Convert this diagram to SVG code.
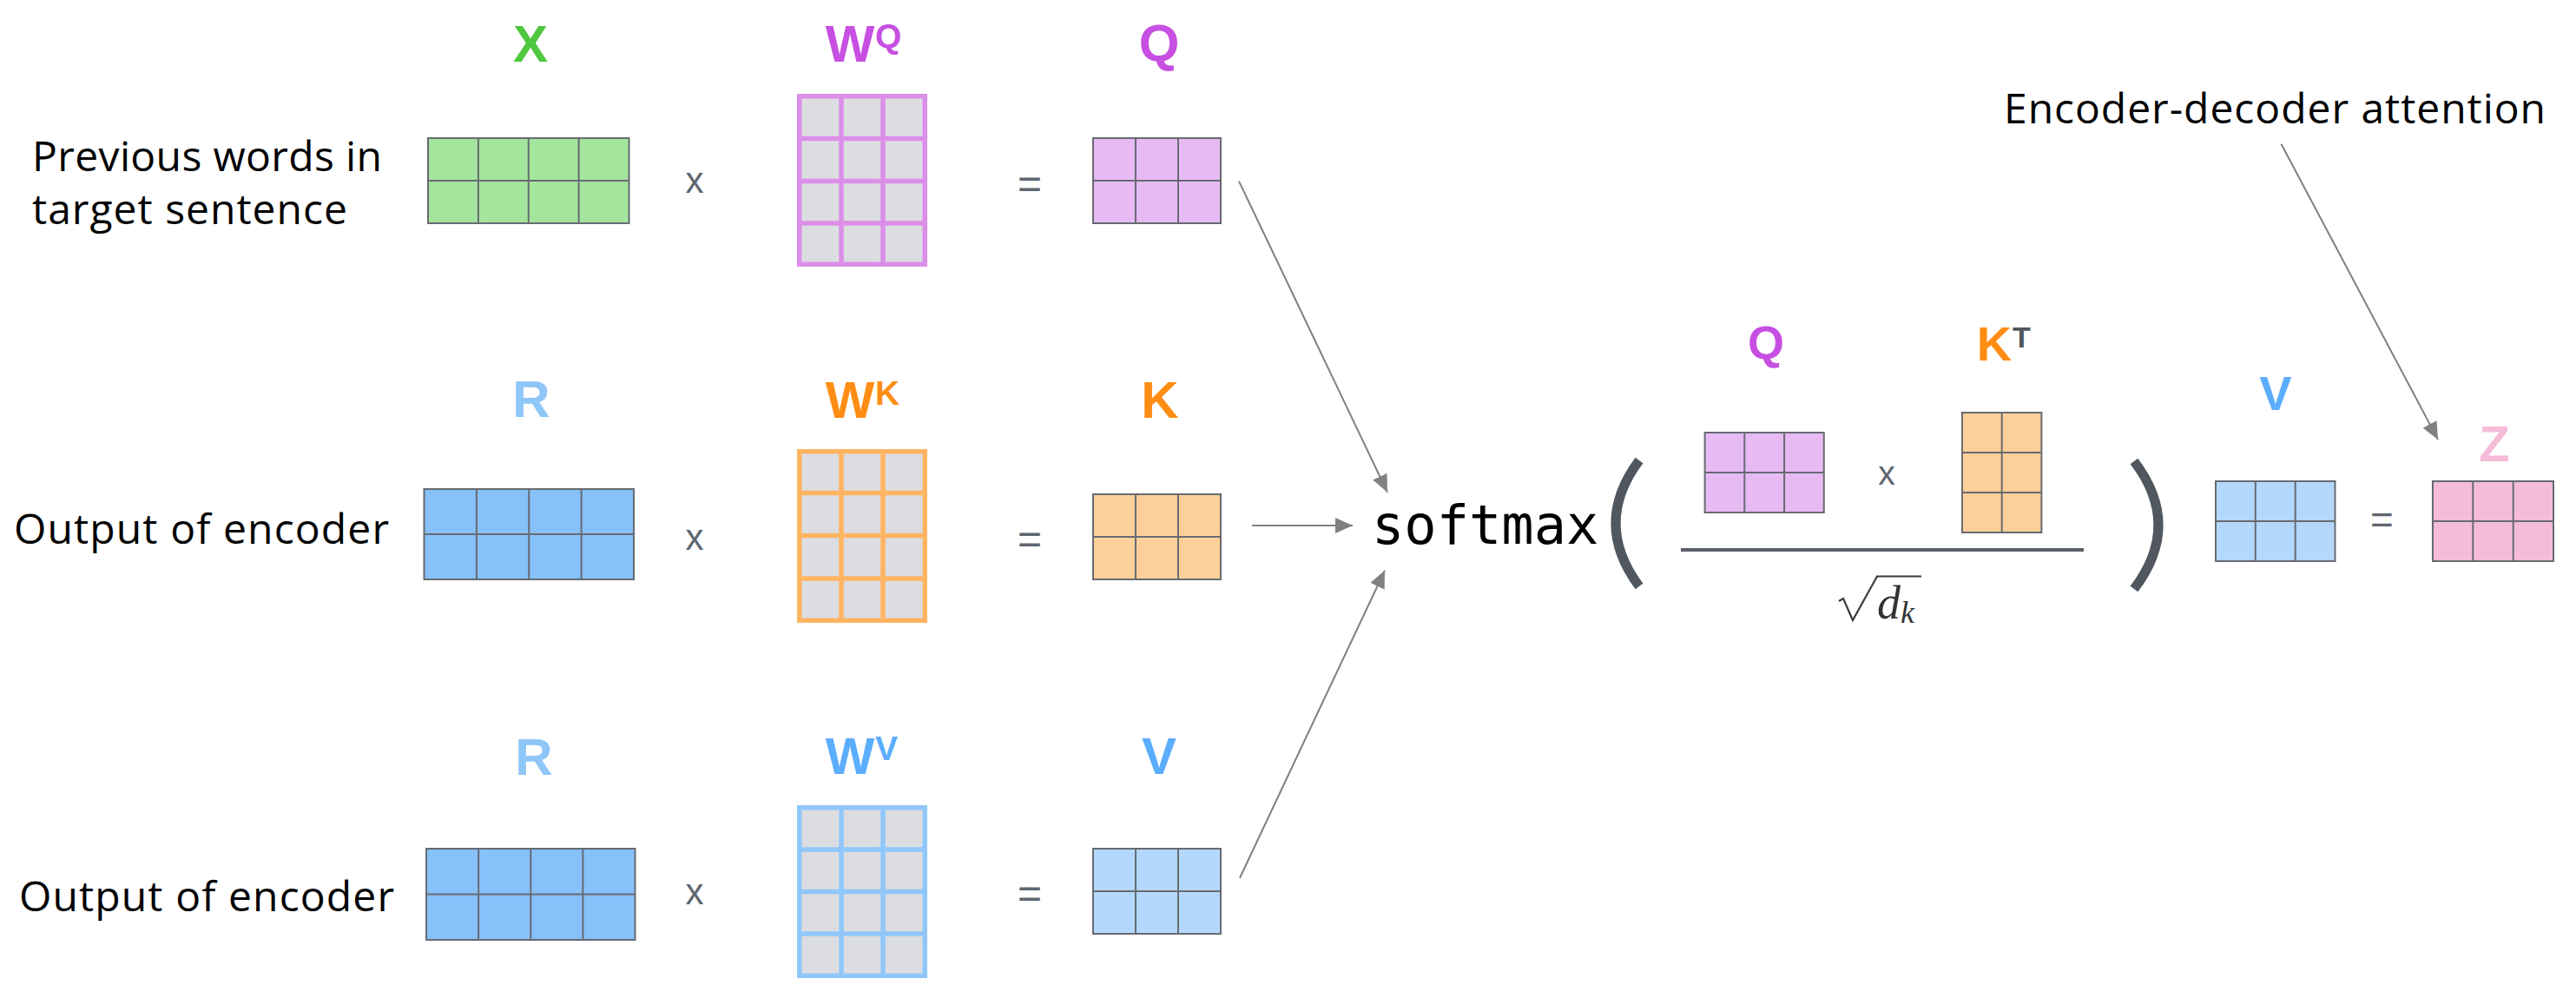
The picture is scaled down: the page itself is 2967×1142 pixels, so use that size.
<svg xmlns="http://www.w3.org/2000/svg" width="2967" height="1142" viewBox="0 0 2967 1142">
<style>
.lbl{font-family:"Liberation Sans",Arial,sans-serif;font-weight:bold;text-anchor:middle}
.sup{font-family:"Liberation Sans",Arial,sans-serif;font-weight:bold}
.txt{font-family:"Open Sans","Noto Sans",sans-serif;font-size:48px;fill:#000}
.op{font-family:"Liberation Sans",Arial,sans-serif;fill:#5f6670;text-anchor:middle}
.mat{stroke:#676b71;stroke-width:2}
.grid{fill:#dcdde0;stroke-width:5.5}
.gl{stroke-width:5.5}
.conn{stroke:#808080;stroke-width:2;fill:none;marker-end:url(#ah)}
.paren{fill:none;stroke:#50575f;stroke-width:11}
</style>
<defs>
<marker id="ah" markerUnits="userSpaceOnUse" markerWidth="22" markerHeight="20" refX="20" refY="9" orient="auto">
<path d="M0,0 L20,9 L0,18 z" fill="#808080"/>
</marker>
</defs>
<rect width="2967" height="1142" fill="#fff"/>

<g id="label-prev-words">
<text class="txt" x="37" y="197" textLength="403">Previous words in</text>
<text class="txt" x="37" y="258" textLength="363">target sentence</text>
</g>
<g id="label-output-encoder-1"><text class="txt" x="16" y="626" textLength="432">Output of encoder</text></g>
<g id="label-output-encoder-2"><text class="txt" x="22" y="1049" textLength="432">Output of encoder</text></g>
<g id="label-enc-dec-attn"><text class="txt" x="2308" y="142" textLength="624">Encoder-decoder attention</text></g>

<!-- Row 1 -->
<g id="X">
<text class="lbl" x="611" y="71" font-size="60" fill="#4fc73f">X</text>
<rect class="mat" x="493" y="159" width="231.5" height="98" fill="#a4e59d"/>
<path class="mat" d="M550.9,159V257M608.75,159V257M666.6,159V257M493,208H724.5"/>
</g>
<g id="op-mul-1"><text class="op" x="800" y="222" font-size="42">x</text></g>
<g id="WQ" stroke="#dc8ee9">
<text class="lbl" x="979" y="71" font-size="60" fill="#c74fe2" stroke="none">W</text>
<text class="sup" x="1008" y="55" font-size="39" fill="#c74fe2" stroke="none">Q</text>
<rect class="grid" x="920.75" y="110.75" width="144.5" height="193.5"/>
<path class="gl" d="M969,110.75V304.25M1017,110.75V304.25M920.75,159.5H1065.25M920.75,208.5H1065.25M920.75,257H1065.25"/>
</g>
<g id="op-eq-1"><text class="op" x="1186" y="228" font-size="48">=</text></g>
<g id="Q">
<text class="lbl" x="1335" y="70" font-size="60" fill="#c74fe2">Q</text>
<rect class="mat" x="1259" y="159" width="147" height="98" fill="#e8baf4"/>
<path class="mat" d="M1308,159V257M1357,159V257M1259,208H1406"/>
</g>

<!-- Row 2 -->
<g id="R1">
<text class="lbl" x="612" y="480" font-size="60" fill="#8fc6f8">R</text>
<rect class="mat" x="488.5" y="563" width="241.5" height="104" fill="#86c1f9" stroke="#5f6875"/>
<path class="mat" stroke="#5f6875" d="M548.9,563V667M609.25,563V667M669.6,563V667M488.5,615H730"/>
</g>
<g id="op-mul-2"><text class="op" x="800" y="633" font-size="42">x</text></g>
<g id="WK" stroke="#ffb462">
<text class="lbl" x="979" y="481" font-size="60" fill="#fe8d14" stroke="none">W</text>
<text class="sup" x="1008" y="466" font-size="39" fill="#fe8d14" stroke="none">K</text>
<rect class="grid" x="920.75" y="519.75" width="144.5" height="194.5"/>
<path class="gl" d="M969,519.75V714.25M1017,519.75V714.25M920.75,567.5H1065.25M920.75,616.5H1065.25M920.75,666H1065.25"/>
</g>
<g id="op-eq-2"><text class="op" x="1186" y="637" font-size="48">=</text></g>
<g id="K">
<text class="lbl" x="1336" y="481" font-size="60" fill="#fe8d14">K</text>
<rect class="mat" x="1259" y="569" width="147" height="98" fill="#fdd099"/>
<path class="mat" d="M1308,569V667M1357,569V667M1259,618H1406"/>
</g>

<!-- Row 3 -->
<g id="R2">
<text class="lbl" x="615" y="892" font-size="60" fill="#8fc6f8">R</text>
<rect class="mat" x="491" y="977" width="240.5" height="105" fill="#86c1f9" stroke="#5f6875"/>
<path class="mat" stroke="#5f6875" d="M551.1,977V1082M611.25,977V1082M671.4,977V1082M491,1029.5H731.5"/>
</g>
<g id="op-mul-3"><text class="op" x="800" y="1041" font-size="42">x</text></g>
<g id="WV" stroke="#90c7fb">
<text class="lbl" x="979" y="891" font-size="60" fill="#5badfd" stroke="none">W</text>
<text class="sup" x="1008" y="875" font-size="39" fill="#5badfd" stroke="none">V</text>
<rect class="grid" x="920.75" y="929.75" width="144.5" height="193.5"/>
<path class="gl" d="M969,929.75V1123.25M1017,929.75V1123.25M920.75,978H1065.25M920.75,1026.5H1065.25M920.75,1075H1065.25"/>
</g>
<g id="op-eq-3"><text class="op" x="1186" y="1045" font-size="48">=</text></g>
<g id="V">
<text class="lbl" x="1335" y="891" font-size="60" fill="#5badfd">V</text>
<rect class="mat" x="1259" y="977" width="147" height="98" fill="#b3d8fc"/>
<path class="mat" d="M1308,977V1075M1357,977V1075M1259,1026H1406"/>
</g>

<!-- Formula -->
<g id="softmax">
<text x="1580" y="626" font-family="DejaVu Sans Mono,monospace" font-size="62" fill="#000">softmax</text>
<path class="paren" d="M1888,530 Q1834,602.5 1888,675"/>
<path class="paren" d="M2458,531 Q2514,604.5 2458,678"/>
</g>
<g id="Q-formula">
<text class="lbl" x="2034" y="413" font-size="54" fill="#c74fe2">Q</text>
<rect class="mat" x="1963.6" y="498" width="137.2" height="92" fill="#e8baf4"/>
<path class="mat" d="M2009.3,498V590M2055.1,498V590M1963.6,544H2100.8"/>
</g>
<g id="op-mul-f"><text class="op" x="2173" y="558" font-size="39">x</text></g>
<g id="KT">
<text class="lbl" x="2297" y="415" font-size="56" fill="#fe8d14">K</text>
<text class="sup" x="2318" y="400" font-size="34" fill="#50575f">T</text>
<rect class="mat" x="2260" y="475" width="91.4" height="138" fill="#fdd099"/>
<path class="mat" d="M2305.7,475V613M2260,521H2351.4M2260,567H2351.4"/>
</g>
<g id="fraction">
<line x1="1936" y1="633" x2="2400" y2="633" stroke="#5b6067" stroke-width="4"/>
<path d="M2118,692 L2123,689 L2134,714 L2162,663.5 L2213,663.5" fill="none" stroke="#3a3a3a" stroke-width="2.2"/>
<text x="2162" y="712" font-family="Liberation Serif,serif" font-style="italic" font-size="54" fill="#333">d</text>
<text x="2189" y="717" font-family="Liberation Serif,serif" font-style="italic" font-size="36" fill="#333">k</text>
</g>
<g id="V-formula">
<text class="lbl" x="2621" y="472" font-size="56" fill="#5badfd">V</text>
<rect class="mat" x="2552" y="554" width="137.5" height="92" fill="#b3d8fc"/>
<path class="mat" d="M2597.8,554V646M2643.7,554V646M2552,600H2689.5"/>
</g>
<g id="op-eq-f"><text class="op" x="2743.5" y="614" font-size="46">=</text></g>
<g id="Z">
<text class="lbl" x="2873" y="531" font-size="58" fill="#f5bbd8">Z</text>
<rect class="mat" x="2802" y="554" width="139" height="92" fill="#f4bcda"/>
<path class="mat" d="M2848.3,554V646M2894.7,554V646M2802,600H2941"/>
</g>

<g id="connectors">
<line class="conn" x1="1427" y1="208.6" x2="1598" y2="566.7"/>
<line class="conn" x1="1442" y1="605" x2="1558" y2="605"/>
<line class="conn" x1="1428" y1="1010.7" x2="1595" y2="656.7"/>
<line class="conn" x1="2627.5" y1="165.7" x2="2808" y2="506"/>
</g>
</svg>
